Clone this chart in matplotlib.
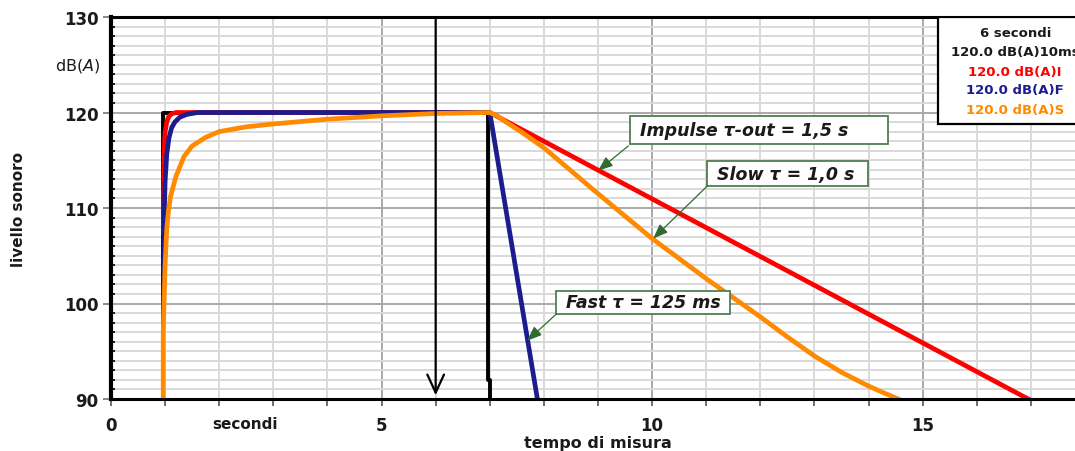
import matplotlib
matplotlib.use("Agg")
import matplotlib.pyplot as plt
from matplotlib.patches import Rectangle
from matplotlib.ticker import MultipleLocator

# 10 ms (black)
t_10ms = [0.96, 0.96, 6.97, 6.97, 7.0, 7.0]
L_10ms = [90.0, 120.0, 120.0, 92.0, 92.0, 90.0]

# Impulse (red)
t_imp = [0.975, 0.975, 0.98, 0.99, 1.0, 1.03, 1.07, 1.12, 1.2, 7.0, 16.95]
L_imp = [107.4, 112.0, 115.0, 117.0, 118.0, 119.0, 119.6, 119.85, 120.0, 120.0, 90.0]

# Fast (blue)
t_fast = [0.97, 0.975, 0.985, 1.0, 1.03, 1.07, 1.12, 1.18, 1.27, 1.4, 1.6, 7.0, 7.88]
L_fast = [98.6, 104.5, 109.5, 112.8, 115.6, 117.3, 118.4, 119.0, 119.5, 119.8, 120.0, 120.0, 90.0]

# Slow (orange)
t_slow = [0.965, 0.965, 1.0, 1.03, 1.06, 1.1, 1.2, 1.35, 1.5, 1.75, 2.0, 2.5, 3.0, 4.0, 5.0, 6.0,
          7.0, 7.15, 7.3, 7.6, 8.0, 9.0, 10.0, 11.0, 12.0, 12.5, 13.0, 13.5, 14.0, 14.3, 14.55]
L_slow = [90.0, 97.0, 104.0, 107.8, 109.6, 111.2, 113.3, 115.4, 116.5, 117.4, 118.0, 118.5, 118.8,
          119.3, 119.65, 119.9, 120.0, 119.6, 119.0, 117.9, 116.3, 111.5, 106.8, 102.6, 98.6, 96.5,
          94.5, 92.8, 91.35, 90.6, 90.0]

legend_lines = ["6 secondi", "120.0 dB(A)10ms", "120.0 dB(A)I", "120.0 dB(A)F", "120.0 dB(A)S"]

red = "#ff0000"
blue = "#1c1c8e"
orange = "#ff8a00"
green = "#2e6b2e"

fig = plt.figure(figsize=(10.75, 4.52), dpi=100)
ax = fig.add_axes([111/1075, 52/452, 974/1075, 382/452])
ax.set_xlim(0, 18)
ax.set_ylim(90, 130)

ax.xaxis.set_major_locator(MultipleLocator(5))
ax.xaxis.set_minor_locator(MultipleLocator(1))
ax.yaxis.set_major_locator(MultipleLocator(10))
ax.yaxis.set_minor_locator(MultipleLocator(1))

ax.grid(which="minor", color="#d9d9d9", lw=1.4)
ax.grid(which="major", color="#a9a9a9", lw=1.4)
ax.set_axisbelow(True)

ax.tick_params(axis="x", which="both", direction="out", length=5, width=1.2, color="#555555", pad=7)
ax.tick_params(axis="y", which="major", direction="out", length=6, width=1.2, color="#777777", pad=3)
ax.tick_params(axis="y", which="minor", direction="in", length=3, width=1.2, color="black")
for lab in ax.get_xticklabels() + ax.get_yticklabels():
    lab.set_fontsize(12)
    lab.set_fontweight("bold")
    lab.set_color("#1a1a1a")

ax.spines["left"].set_linewidth(3)
ax.spines["bottom"].set_linewidth(2.2)
ax.spines["top"].set_linewidth(2.2)
ax.spines["right"].set_linewidth(2.2)

ax.plot(t_10ms, L_10ms, color="black", lw=2.8)
ax.plot(t_imp, L_imp, color=red, lw=3.4)
ax.plot(t_fast, L_fast, color=blue, lw=3.4)
ax.plot(t_slow, L_slow, color=orange, lw=3.4)

# measuring instant arrow
ax.annotate("", xy=(6, 90.1), xytext=(6, 130),
            arrowprops=dict(arrowstyle="->,head_length=1.3,head_width=0.6", lw=1.6, color="black"))

# legend box
ax.add_patch(Rectangle((15.29, 118.8), 3.5, 11.2, facecolor="white", edgecolor="black",
                       lw=1.6, zorder=5))
leg_colors = ["#1a1a1a", "#1a1a1a", red, blue, orange]
leg_y = [128.4, 126.4, 124.3, 122.4, 120.3]
for txt, c, yy in zip(legend_lines, leg_colors, leg_y):
    ax.text(16.71, yy, txt, color=c, fontsize=9.5, fontweight="bold", ha="center", va="center",
            zorder=6)

# annotation boxes
notes = [
    ("Impulse τ-out = 1,5 s", (9.59, 116.70), 4.77, 2.93, (9.56, 116.5), (9.0, 113.9)),
    ("Slow τ = 1,0 s", (11.02, 112.30), 2.97, 2.62, (11.02, 112.3), (10.02, 106.8)),
    ("Fast τ = 125 ms", (8.23, 98.90), 3.21, 2.41, (8.23, 98.9), (7.69, 96.1)),
]
for txt, (bx, by), bw, bh, start, tip in notes:
    ax.add_patch(Rectangle((bx, by), bw, bh, facecolor="white", edgecolor="#4f7f4f", lw=1.3, zorder=5))
    ax.text(bx + 0.18, by + bh / 2, txt, fontsize=12.5, fontweight="bold", fontstyle="italic",
            color="#1a1a1a", ha="left", va="center", zorder=6)
    ax.annotate("", xy=tip, xytext=start,
                arrowprops=dict(arrowstyle="-|>,head_length=0.9,head_width=0.35", lw=0.9,
                                color=green, shrinkA=0, shrinkB=0), zorder=6)

ax.text(-0.2, 125, "dB($\\it{A}$)", fontsize=11.5, ha="right", va="center", color="#1a1a1a")
ax.text(2.48, 87.4, "secondi", fontsize=11, fontweight="bold", ha="center", va="center", color="#1a1a1a")
ax.text(9.0, 86.2, "tempo di misura", fontsize=11.5, fontweight="bold", ha="center", va="top",
        color="#1a1a1a", clip_on=False)
fig.text(19/1075, 1 - 210/452, "livello sonoro", rotation=90, fontsize=11, fontweight="bold",
         ha="center", va="center", color="#1a1a1a")

fig.savefig("out.png", dpi=100)
